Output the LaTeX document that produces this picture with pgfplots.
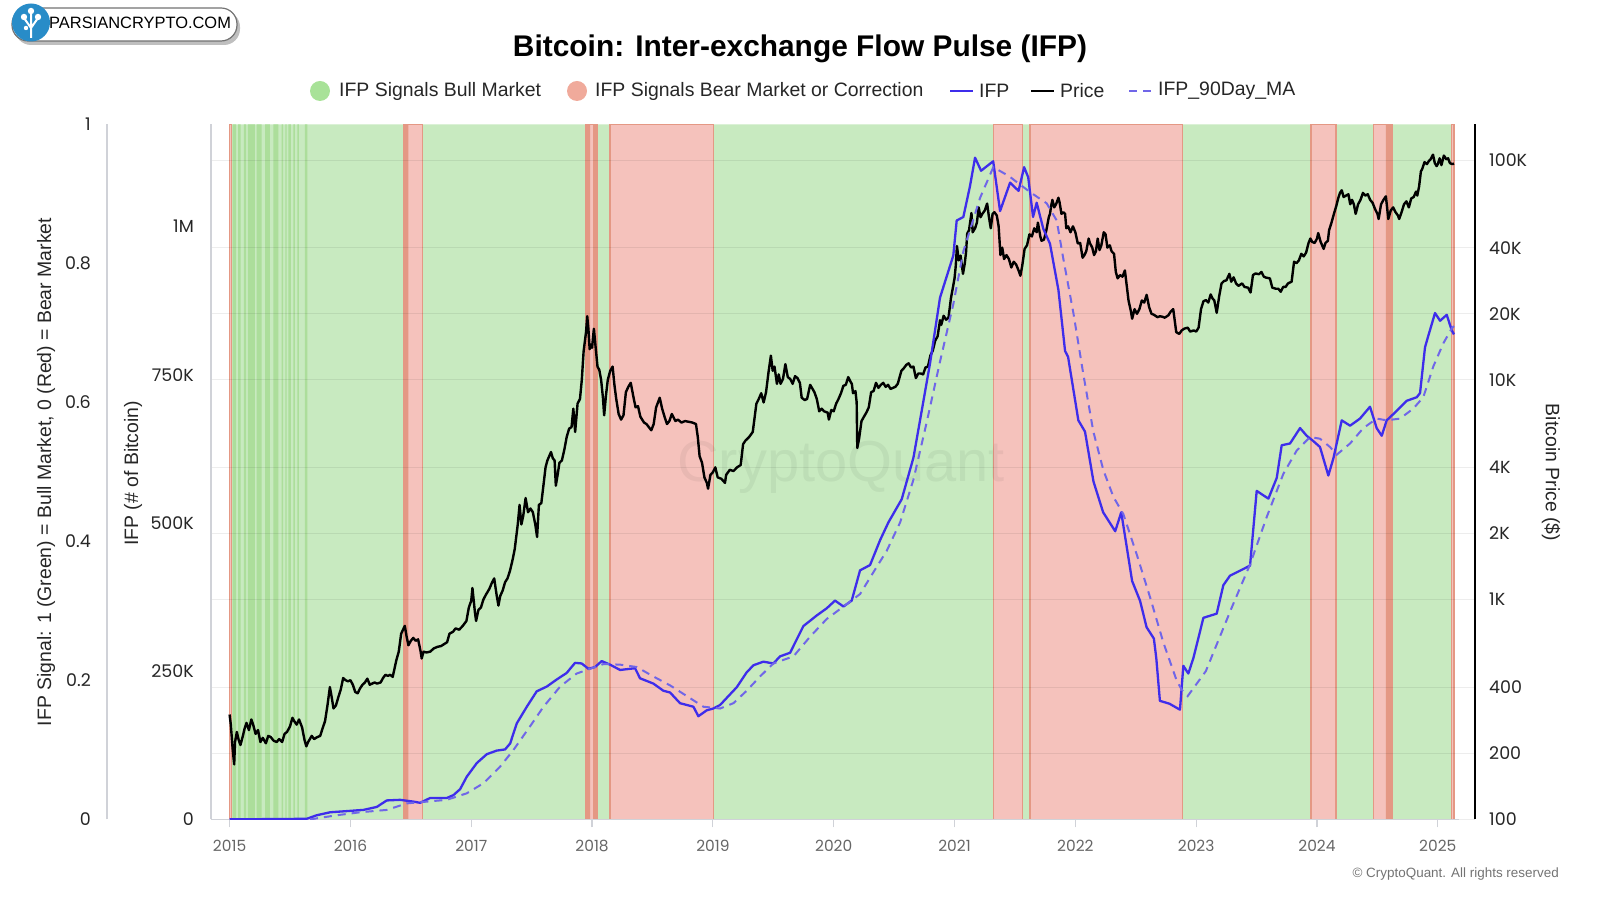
\documentclass[border=0pt]{standalone}
\usepackage{pgfplots}
\pgfplotsset{compat=1.18}
\usepackage{fontspec}
\setmainfont{Liberation Sans}
\newfontfamily\tickf{Poppins}
\definecolor{bandgreen}{RGB}{200,234,192}
\definecolor{darkgreen}{RGB}{172,222,155}
\definecolor{bandred}{RGB}{245,194,188}
\definecolor{redborder}{RGB}{228,152,132}
\definecolor{ifpblue}{RGB}{62,45,235}
\definecolor{mablue}{RGB}{112,102,232}
\definecolor{axisgray}{RGB}{208,210,216}
\definecolor{ticktext}{RGB}{102,102,102}
\definecolor{legendgreen}{RGB}{168,226,152}
\definecolor{legendred}{RGB}{240,170,155}
\definecolor{logoblue}{RGB}{40,140,200}
\newcommand{\leg}{\fontsize{19.5}{22}\selectfont}
\newcommand{\ytf}{\tickf\fontsize{17.5}{20}\selectfont}
\newcommand{\xtf}{\tickf\fontsize{15.5}{18}\selectfont}
\pgfplotsset{yearshift/.style={x filter/.expression={x-2015}}}
\begin{document}
\begin{tikzpicture}
\path[use as bounding box] (0bp,0bp) rectangle (1600bp,900bp);
% logo
\fill[black!25, rounded corners=16bp] (15bp,855bp) rectangle (240bp,889bp);
\draw[fill=white, draw=black!55, line width=1.2bp, rounded corners=16bp] (12bp,859bp) rectangle (237bp,892bp);
\fill[logoblue] (31bp,877.5bp) circle (19bp);
\draw[white, line width=2bp] (31bp,862bp) -- (31bp,876bp) (31bp,872bp) -- (24bp,882bp) (31bp,872bp) -- (38bp,882bp) (31bp,876bp) -- (31bp,888bp);
\fill[white] (24bp,883bp) circle (3.2bp) (38bp,883bp) circle (3.2bp) (31bp,889bp) circle (3.2bp) (26bp,872bp) circle (2.2bp);
\node[font=\fontsize{16.5}{18}\selectfont, anchor=west, inner sep=0pt] at (49bp,877bp) {PARSIANCRYPTO.COM};
% title
\node[font=\fontsize{30}{36}\selectfont\bfseries, inner sep=0pt] at (800bp,851bp) {Bitcoin: Inter-exchange Flow Pulse (IFP)};
% legend
\fill[legendgreen] (320bp,809bp) circle (10bp);
\node[anchor=west, font=\leg, inner sep=0pt, text=black!85] at (339bp,809bp) {IFP Signals Bull Market};
\fill[legendred] (577bp,809bp) circle (10bp);
\node[anchor=west, font=\leg, inner sep=0pt, text=black!85] at (595bp,809bp) {IFP Signals Bear Market or Correction};
\draw[ifpblue, line width=2.5bp] (950bp,809bp) -- (973bp,809bp);
\node[anchor=west, font=\leg, inner sep=0pt, text=black!85] at (979bp,809bp) {IFP};
\draw[black, line width=2.5bp] (1031bp,809bp) -- (1054bp,809bp);
\node[anchor=west, font=\leg, inner sep=0pt, text=black!85] at (1060bp,809bp) {Price};
\draw[mablue, line width=2.5bp, dash pattern=on 8bp off 6bp] (1129bp,809bp) -- (1151bp,809bp);
\node[anchor=west, font=\leg, inner sep=0pt, text=black!85] at (1158bp,809bp) {IFP\_90Day\_MA};

% ---------- signal axis (bands) ----------
\begin{axis}[
  at={(107bp,80.6bp)}, anchor=south west, scale only axis,
  width=1352bp, height=694.9bp, yearshift,
  xmin=-1.01473, xmax=10.1755, ymin=0, ymax=1,
  axis x line=none, axis y line*=left,
  y axis line style={draw=axisgray, line width=1.5bp, -},
  ytick={0,0.2,0.4,0.6,0.8,1}, yticklabels={0,0.2,0.4,0.6,0.8,1},
  major tick length=0pt, ytick style={draw=none},
  yticklabel style={font=\ytf, text=black!85, anchor=east, inner sep=0pt, xshift=-16bp},
]
% whole period green
\addplot[fill=bandgreen, draw=none, forget plot] coordinates {(2015.0,0) (2015.0,1) (2025.134,1) (2025.134,0)} \closedcycle;
% early flickering signal
\addplot[fill=darkgreen, draw=none, forget plot] coordinates {(2015.026,0) (2015.026,1) (2015.053,1) (2015.053,0)} \closedcycle;
\addplot[fill=darkgreen, draw=none, forget plot] coordinates {(2015.070,0) (2015.070,1) (2015.092,1) (2015.092,0)} \closedcycle;
\addplot[fill=darkgreen, draw=none, forget plot] coordinates {(2015.119,0) (2015.119,1) (2015.136,1) (2015.136,0)} \closedcycle;
\addplot[fill=darkgreen, draw=none, forget plot] coordinates {(2015.152,0) (2015.152,1) (2015.210,1) (2015.210,0)} \closedcycle;
\addplot[fill=darkgreen, draw=none, forget plot] coordinates {(2015.224,0) (2015.224,1) (2015.266,1) (2015.266,0)} \closedcycle;
\addplot[fill=darkgreen, draw=none, forget plot] coordinates {(2015.293,0) (2015.293,1) (2015.334,1) (2015.334,0)} \closedcycle;
\addplot[fill=darkgreen, draw=none, forget plot] coordinates {(2015.362,0) (2015.362,1) (2015.403,1) (2015.403,0)} \closedcycle;
\addplot[fill=darkgreen, draw=none, forget plot] coordinates {(2015.431,0) (2015.431,1) (2015.444,1) (2015.444,0)} \closedcycle;
\addplot[fill=darkgreen, draw=none, forget plot] coordinates {(2015.461,0) (2015.461,1) (2015.473,1) (2015.473,0)} \closedcycle;
\addplot[fill=darkgreen, draw=none, forget plot] coordinates {(2015.486,0) (2015.486,1) (2015.508,1) (2015.508,0)} \closedcycle;
\addplot[fill=darkgreen, draw=none, forget plot] coordinates {(2015.527,0) (2015.527,1) (2015.541,1) (2015.541,0)} \closedcycle;
\addplot[fill=darkgreen, draw=none, forget plot] coordinates {(2015.560,0) (2015.560,1) (2015.574,1) (2015.574,0)} \closedcycle;
\addplot[fill=darkgreen, draw=none, forget plot] coordinates {(2015.624,0) (2015.624,1) (2015.643,1) (2015.643,0)} \closedcycle;
% red bands (signal 0)
\addplot[fill=bandred, draw=redborder, line width=1.2bp, forget plot] coordinates {(2015.000,0) (2015.000,1) (2015.015,1) (2015.015,0)} \closedcycle;
\addplot[fill=bandred, draw=redborder, line width=1.5bp, forget plot] coordinates {(2016.438,0) (2016.438,1) (2016.598,1) (2016.598,0)} \closedcycle;
\addplot[fill=redborder, draw=none, forget plot] coordinates {(2016.438,0) (2016.438,1) (2016.479,1) (2016.479,0)} \closedcycle;
\addplot[fill=bandred, draw=redborder, line width=1.5bp, forget plot] coordinates {(2017.950,0) (2017.950,1) (2018.041,1) (2018.041,0)} \closedcycle;
\addplot[fill=redborder, draw=none, forget plot] coordinates {(2017.950,0) (2017.950,1) (2017.983,1) (2017.983,0)} \closedcycle;
\addplot[fill=redborder, draw=none, forget plot] coordinates {(2018.008,0) (2018.008,1) (2018.041,1) (2018.041,0)} \closedcycle;
\addplot[fill=bandred, draw=redborder, line width=1.5bp, forget plot] coordinates {(2018.149,0) (2018.149,1) (2019.004,1) (2019.004,0)} \closedcycle;
\addplot[fill=bandred, draw=redborder, line width=1.5bp, forget plot] coordinates {(2021.321,0) (2021.321,1) (2021.564,1) (2021.564,0)} \closedcycle;
\addplot[fill=bandred, draw=redborder, line width=1.5bp, forget plot] coordinates {(2021.625,0) (2021.625,1) (2022.885,1) (2022.885,0)} \closedcycle;
\addplot[fill=bandred, draw=redborder, line width=1.5bp, forget plot] coordinates {(2023.951,0) (2023.951,1) (2024.158,1) (2024.158,0)} \closedcycle;
\addplot[fill=bandred, draw=redborder, line width=1.5bp, forget plot] coordinates {(2024.466,0) (2024.466,1) (2024.623,1) (2024.623,0)} \closedcycle;
\addplot[fill=redborder, draw=none, forget plot] coordinates {(2024.571,0) (2024.571,1) (2024.623,1) (2024.623,0)} \closedcycle;
\addplot[fill=bandred, draw=redborder, line width=1.2bp, forget plot] coordinates {(2025.115,0) (2025.115,1) (2025.134,1) (2025.134,0)} \closedcycle;
\end{axis}

% watermark
\node[font=\fontsize{58}{60}\selectfont, text=black, opacity=0.05, inner sep=0pt] at (841bp,433bp) {CryptoQuant};

% ---------- price axis (log, right) ----------
\begin{axis}[
  at={(211bp,80.6bp)}, anchor=south west, scale only axis,
  width=1263.5bp, height=694.9bp, yearshift,
  xmin=-0.1539, xmax=10.3037,
  ymode=log, ymin=100, ymax=145400,
  axis x line*=bottom, x axis line style={draw=none}, xtick=\empty,
  axis y line*=right,
  y axis line style={draw=black, line width=2bp, -},
  ytick={100,200,400,1000,2000,4000,10000,20000,40000,100000},
  yticklabels={100,200,400,1K,2K,4K,10K,20K,40K,100K},
  major tick length=0pt, ytick style={draw=none},
  ymajorgrids, major grid style={draw=black, opacity=0.07, line width=1bp},
  yticklabel style={font=\ytf, text=black!85, anchor=west, inner sep=0pt, xshift=14.5bp},
]
\addplot[black, line width=2.4bp, line join=round] coordinates {
(2015.000,300) (2015.010,270) (2015.025,210) (2015.038,178) (2015.045,225) (2015.060,250) (2015.075,230) (2015.090,218)
(2015.110,240) (2015.125,260) (2015.140,275) (2015.160,255) (2015.180,285) (2015.195,270) (2015.215,245) (2015.235,255)
(2015.255,225) (2015.275,235) (2015.300,222) (2015.320,240) (2015.340,237) (2015.365,228) (2015.390,225) (2015.410,232)
(2015.435,225) (2015.455,245) (2015.475,250) (2015.500,265) (2015.520,290) (2015.535,280) (2015.555,270) (2015.575,285)
(2015.600,262) (2015.620,230) (2015.635,215) (2015.650,225) (2015.680,240) (2015.700,232) (2015.720,236) (2015.750,240)
(2015.770,260) (2015.790,280) (2015.810,330) (2015.830,400) (2015.845,360) (2015.860,320) (2015.880,330) (2015.900,360)
(2015.920,390) (2015.940,440) (2015.960,430) (2015.980,425) (2016.000,430) (2016.020,410) (2016.040,380) (2016.060,375)
(2016.080,395) (2016.100,410) (2016.120,420) (2016.140,437) (2016.160,410) (2016.180,415) (2016.200,420) (2016.220,415)
(2016.250,420) (2016.270,440) (2016.290,455) (2016.310,450) (2016.330,455) (2016.350,445) (2016.380,530) (2016.400,580)
(2016.420,700) (2016.450,760) (2016.465,680) (2016.480,620) (2016.500,650) (2016.520,670) (2016.540,650) (2016.560,660)
(2016.580,585) (2016.590,540) (2016.605,580) (2016.630,575) (2016.660,580) (2016.690,600) (2016.720,610) (2016.750,615)
(2016.780,630) (2016.800,640) (2016.820,700) (2016.850,715) (2016.870,740) (2016.900,730) (2016.930,760) (2016.960,800)
(2016.980,920) (2017.000,990) (2017.010,1130) (2017.030,880) (2017.040,800) (2017.060,900) (2017.080,920) (2017.100,1000)
(2017.120,1050) (2017.150,1120) (2017.170,1190) (2017.190,1250) (2017.210,1050) (2017.225,940) (2017.240,1040) (2017.260,1100)
(2017.280,1200) (2017.300,1250) (2017.320,1350) (2017.340,1500) (2017.360,1700) (2017.385,2200) (2017.400,2700) (2017.415,2200)
(2017.430,2400) (2017.450,2900) (2017.470,2500) (2017.490,2600) (2017.510,2500) (2017.530,2200) (2017.545,1930) (2017.560,2700)
(2017.580,2750) (2017.600,3400) (2017.615,4000) (2017.630,4300) (2017.660,4700) (2017.675,4400) (2017.690,4300) (2017.700,3300)
(2017.715,3700) (2017.730,4200) (2017.750,4300) (2017.770,4800) (2017.790,5500) (2017.810,6000) (2017.830,6100) (2017.845,7400)
(2017.860,5800) (2017.880,7800) (2017.900,8200) (2017.915,10000) (2017.930,13500) (2017.950,16500) (2017.960,19500) (2017.970,17000)
(2017.980,13800) (2017.990,14500) (2018.000,14000) (2018.015,17100) (2018.030,14000) (2018.045,11500) (2018.060,11100) (2018.075,10000)
(2018.090,8300) (2018.100,6900) (2018.115,8500) (2018.130,10000) (2018.150,11000) (2018.170,11500) (2018.185,9500) (2018.200,8200)
(2018.220,7000) (2018.240,6600) (2018.260,6900) (2018.280,8800) (2018.300,9300) (2018.320,9700) (2018.340,8500) (2018.360,7500)
(2018.380,7600) (2018.400,6800) (2018.430,6400) (2018.450,6300) (2018.470,6100) (2018.490,5900) (2018.510,6300) (2018.530,7500)
(2018.560,8300) (2018.580,7400) (2018.600,6800) (2018.620,6300) (2018.640,6500) (2018.660,7000) (2018.690,6500) (2018.710,6600)
(2018.740,6400) (2018.770,6500) (2018.800,6450) (2018.830,6400) (2018.860,6300) (2018.875,5500) (2018.890,4500) (2018.910,4200)
(2018.930,3600) (2018.950,3400) (2018.960,3200) (2018.980,3700) (2019.000,3800) (2019.020,4000) (2019.040,3600) (2019.070,3550)
(2019.100,3400) (2019.110,3700) (2019.140,3900) (2019.170,3850) (2019.200,4000) (2019.230,4100) (2019.250,5100) (2019.270,5300)
(2019.300,5500) (2019.330,5800) (2019.360,7800) (2019.380,8200) (2019.400,8700) (2019.420,7900) (2019.440,8800) (2019.460,10800)
(2019.480,12900) (2019.495,11000) (2019.510,11500) (2019.530,9600) (2019.545,10600) (2019.560,9600) (2019.580,10100) (2019.600,11800)
(2019.620,10300) (2019.640,10100) (2019.660,9600) (2019.680,10400) (2019.700,10200) (2019.720,9700) (2019.735,8300) (2019.760,8100)
(2019.780,8200) (2019.805,9500) (2019.820,9200) (2019.840,8800) (2019.860,8200) (2019.880,7200) (2019.900,7400) (2019.920,7200)
(2019.950,7100) (2019.960,6600) (2019.980,7300) (2020.000,7200) (2020.020,7800) (2020.040,8200) (2020.060,8700) (2020.080,9400)
(2020.100,9500) (2020.120,10300) (2020.140,9800) (2020.150,9600) (2020.160,8700) (2020.180,8900) (2020.190,7900) (2020.195,4900)
(2020.210,5400) (2020.230,6500) (2020.250,6800) (2020.270,7100) (2020.290,7500) (2020.310,8800) (2020.330,8900) (2020.350,9700)
(2020.370,9200) (2020.390,9500) (2020.410,9700) (2020.430,9300) (2020.450,9500) (2020.470,9100) (2020.490,9200) (2020.510,9300)
(2020.530,9600) (2020.560,11000) (2020.580,11300) (2020.600,11700) (2020.620,11900) (2020.640,11400) (2020.660,11500) (2020.680,10200)
(2020.700,10700) (2020.720,10700) (2020.740,10600) (2020.760,11400) (2020.780,11500) (2020.800,12900) (2020.820,13600) (2020.840,15100)
(2020.860,15800) (2020.880,18700) (2020.890,17800) (2020.910,19600) (2020.930,18800) (2020.950,19200) (2020.970,23500) (2020.990,27000)
(2021.000,29000) (2021.010,33000) (2021.020,40700) (2021.035,35000) (2021.050,36800) (2021.070,30400) (2021.085,34000) (2021.095,38000)
(2021.105,46400) (2021.120,48000) (2021.140,57500) (2021.150,47000) (2021.170,49000) (2021.185,52000) (2021.200,61000) (2021.215,55000)
(2021.230,57000) (2021.250,59000) (2021.270,63500) (2021.285,55000) (2021.300,49000) (2021.315,57000) (2021.330,58000) (2021.350,56000)
(2021.365,50000) (2021.380,37000) (2021.395,40000) (2021.410,35500) (2021.430,37000) (2021.450,35500) (2021.470,32500) (2021.490,34500)
(2021.510,33500) (2021.530,31500) (2021.545,29800) (2021.560,33000) (2021.580,39500) (2021.600,41000) (2021.620,46000) (2021.640,45000)
(2021.660,49000) (2021.680,47000) (2021.690,52000) (2021.710,45000) (2021.720,43000) (2021.740,43500) (2021.760,48000) (2021.780,55000)
(2021.790,57000) (2021.800,62000) (2021.810,66000) (2021.825,61000) (2021.840,63000) (2021.860,67500) (2021.870,64000) (2021.885,57000)
(2021.900,58000) (2021.915,57000) (2021.925,49000) (2021.940,50000) (2021.960,47000) (2021.980,50000) (2022.000,47000) (2022.020,41800)
(2022.040,42000) (2022.060,36000) (2022.075,37000) (2022.090,38500) (2022.110,44000) (2022.120,42000) (2022.140,40000) (2022.155,37000)
(2022.170,38500) (2022.185,44000) (2022.200,39000) (2022.215,41000) (2022.235,47000) (2022.250,46000) (2022.265,40000) (2022.285,41000)
(2022.300,38500) (2022.320,37500) (2022.335,31000) (2022.350,29000) (2022.370,30000) (2022.390,29500) (2022.410,31500) (2022.440,23000)
(2022.460,20500) (2022.470,19000) (2022.490,21000) (2022.510,20000) (2022.530,21000) (2022.550,23000) (2022.570,22500) (2022.590,24400)
(2022.610,21500) (2022.630,20000) (2022.650,19800) (2022.680,19300) (2022.700,19500) (2022.720,19400) (2022.740,19200) (2022.770,19700)
(2022.790,20500) (2022.810,21000) (2022.835,16500) (2022.860,16200) (2022.880,16800) (2022.900,17100) (2022.930,17300) (2022.950,16600)
(2022.980,16800) (2023.000,16600) (2023.020,17300) (2023.040,21000) (2023.060,22800) (2023.080,23100) (2023.100,22500) (2023.120,24500)
(2023.135,23500) (2023.150,23000) (2023.170,20200) (2023.190,24000) (2023.210,27500) (2023.230,28200) (2023.250,28400) (2023.275,30400)
(2023.290,28000) (2023.310,29300) (2023.330,27500) (2023.350,26800) (2023.380,27500) (2023.400,26500) (2023.430,26300) (2023.450,25000)
(2023.470,30000) (2023.490,30500) (2023.520,30300) (2023.540,31000) (2023.560,29500) (2023.580,29200) (2023.610,29000) (2023.630,26300)
(2023.660,26000) (2023.680,26000) (2023.700,25200) (2023.720,26500) (2023.740,26500) (2023.760,27500) (2023.790,28000) (2023.810,34500)
(2023.830,34000) (2023.850,35000) (2023.870,37500) (2023.890,36500) (2023.910,38000) (2023.930,42000) (2023.945,44000) (2023.960,42500)
(2023.980,42000) (2024.000,44000) (2024.010,46600) (2024.030,42500) (2024.055,39500) (2024.070,42000) (2024.090,43000) (2024.100,48000)
(2024.120,52000) (2024.140,57000) (2024.160,62000) (2024.175,67000) (2024.190,71000) (2024.205,73000) (2024.220,68000) (2024.240,69000)
(2024.260,70000) (2024.275,63000) (2024.290,66000) (2024.305,63000) (2024.320,57000) (2024.340,63000) (2024.360,66000) (2024.380,71000)
(2024.400,69000) (2024.420,70000) (2024.440,66000) (2024.460,64000) (2024.480,60000) (2024.500,57000) (2024.510,54000) (2024.530,63000)
(2024.550,66000) (2024.570,68500) (2024.580,61000) (2024.590,54000) (2024.610,59000) (2024.630,61000) (2024.650,58000) (2024.670,56000)
(2024.680,54000) (2024.700,58000) (2024.720,63000) (2024.740,65000) (2024.760,61000) (2024.780,67000) (2024.800,68000) (2024.820,72000)
(2024.830,69000) (2024.845,76000) (2024.860,89000) (2024.870,91000) (2024.890,98000) (2024.910,96000) (2024.925,99000) (2024.940,101000)
(2024.960,106000) (2024.975,97000) (2024.990,94000) (2025.000,96000) (2025.015,102000) (2025.030,95000) (2025.050,105000) (2025.060,103000)
(2025.070,101000) (2025.085,102000) (2025.100,97000) (2025.120,96000) (2025.134,96500)
};
\end{axis}

% ---------- IFP axis (left inner) ----------
\begin{axis}[
  at={(211bp,80.6bp)}, anchor=south west, scale only axis,
  width=1248bp, height=694.9bp, yearshift,
  xmin=-0.1539, xmax=10.1755, ymin=0, ymax=1172,
  axis x line*=bottom, axis y line*=left,
  x axis line style={draw=axisgray, line width=1.2bp, -},
  y axis line style={draw=axisgray, line width=1.5bp, -},
  xtick={0,1,2,3,4,5,6,7,8,9,10},
  xticklabels={2015,2016,2017,2018,2019,2020,2021,2022,2023,2024,2025},
  ytick={0,250,500,750,1000}, yticklabels={0,250K,500K,750K,1M},
  tick align=outside, major tick length=8bp,
  xtick style={draw=axisgray, line width=1.2bp}, ytick style={draw=none},
  xticklabel style={font=\xtf, text=ticktext, anchor=north, inner sep=0pt, yshift=-13bp},
  yticklabel style={font=\ytf, text=black!85, anchor=east, inner sep=0pt, xshift=-9bp},
]
\addplot[ifpblue, line width=2.3bp, line join=round] coordinates {
(2015.000,0) (2015.638,1) (2015.68,4) (2015.721,7) (2015.832,12) (2015.97,14) (2016.107,16) (2016.218,21) (2016.301,32)
(2016.411,33) (2016.521,30) (2016.577,28) (2016.659,36) (2016.797,36) (2016.853,41) (2016.908,51) (2016.963,72) (2017.046,95)
(2017.129,110) (2017.211,116) (2017.28,118) (2017.322,128) (2017.377,162) (2017.46,190) (2017.542,216) (2017.625,224) (2017.708,236)
(2017.79,247) (2017.859,264) (2017.914,263) (2017.970,254) (2018.025,257) (2018.080,267) (2018.149,261) (2018.232,252) (2018.356,255)
(2018.397,238) (2018.508,229) (2018.590,217) (2018.646,214) (2018.728,196) (2018.784,193) (2018.839,190) (2018.880,174) (2018.949,184)
(2019.004,187) (2019.060,193) (2019.115,205) (2019.198,223) (2019.280,248) (2019.336,260) (2019.418,266) (2019.501,263) (2019.556,275)
(2019.639,281) (2019.749,326) (2019.860,344) (2019.942,356) (2020.011,369) (2020.081,359) (2020.149,369) (2020.218,420) (2020.301,429)
(2020.384,471) (2020.453,501) (2020.563,540) (2020.660,610) (2020.743,706) (2020.798,770) (2020.88,880) (2020.99,951) (2021.018,1010)
(2021.073,1016) (2021.128,1068) (2021.17,1116) (2021.22,1094) (2021.32,1110) (2021.377,1026) (2021.46,1074) (2021.53,1060) (2021.576,1100)
(2021.61,1083) (2021.65,1016) (2021.68,1040) (2021.735,996) (2021.79,971) (2021.86,893) (2021.915,790) (2021.94,780) (2022.025,673)
(2022.08,654) (2022.15,570) (2022.23,518) (2022.33,486) (2022.38,518) (2022.47,402) (2022.535,369) (2022.59,324) (2022.65,305)
(2022.67,272) (2022.70,200) (2022.78,195) (2022.866,185) (2022.894,259) (2022.935,246) (2022.977,272) (2023.060,340) (2023.170,347)
(2023.225,395) (2023.280,411) (2023.446,428) (2023.501,554) (2023.598,541) (2023.667,576) (2023.708,631) (2023.777,634) (2023.860,660)
(2023.915,647) (2023.970,638) (2024.025,628) (2024.094,580) (2024.136,609) (2024.205,673) (2024.274,664) (2024.356,676) (2024.439,696)
(2024.494,660) (2024.536,647) (2024.577,673) (2024.660,689) (2024.743,706) (2024.826,712) (2024.853,719) (2024.894,796) (2024.922,816)
(2024.977,854) (2025.019,841) (2025.074,851) (2025.115,825) (2025.134,818)
};
\addplot[mablue, line width=2bp, dash pattern=on 8bp off 6bp] coordinates {
(2015.666,0) (2015.887,7) (2016.08,12) (2016.301,16) (2016.466,27) (2016.632,30) (2016.797,33) (2016.963,44) (2017.101,61)
(2017.239,89) (2017.349,117) (2017.487,157) (2017.598,190) (2017.736,224) (2017.873,246) (2017.984,254) (2018.094,262) (2018.232,261)
(2018.37,257) (2018.508,241) (2018.646,226) (2018.784,208) (2018.922,190) (2019.06,187) (2019.17,196) (2019.28,217) (2019.39,241)
(2019.501,263) (2019.667,275) (2019.804,308) (2019.942,338) (2020.081,359) (2020.218,380) (2020.329,417) (2020.439,453) (2020.55,501)
(2020.66,573) (2020.77,670) (2020.881,773) (2020.99,869) (2021.073,958) (2021.211,1048) (2021.321,1100) (2021.45,1085) (2021.625,1058)
(2021.763,1039) (2021.846,1010) (2021.901,945) (2021.984,854) (2022.066,751) (2022.149,654) (2022.232,589) (2022.315,544) (2022.397,515)
(2022.508,447) (2022.618,375) (2022.729,298) (2022.839,234) (2022.880,219) (2022.93,208) (2023.08,250) (2023.30,360) (2023.446,430)
(2023.584,510) (2023.722,583) (2023.832,622) (2023.943,645) (2024.025,642) (2024.108,628) (2024.163,615) (2024.274,634) (2024.384,660)
(2024.494,676) (2024.577,673) (2024.688,676) (2024.798,693) (2024.88,712) (2024.963,764) (2025.046,803) (2025.115,828) (2025.134,832)
};
\end{axis}

% axis titles
\node[rotate=90, font=\leg, inner sep=0pt, text=black!85] at (46bp,428bp) {IFP Signal: 1 (Green) = Bull Market, 0 (Red) = Bear Market};
\node[rotate=90, font=\leg, inner sep=0pt, text=black!85] at (133bp,426.5bp) {IFP (\# of Bitcoin)};
\node[rotate=-90, font=\leg, inner sep=0pt, text=black!85] at (1551bp,427.5bp) {Bitcoin Price (\$)};
% copyright
\node[anchor=east, font=\fontsize{13.5}{16}\selectfont, text=black!55, inner sep=0pt] at (1559bp,26bp) {© CryptoQuant. All rights reserved};
\end{tikzpicture}
\end{document}
